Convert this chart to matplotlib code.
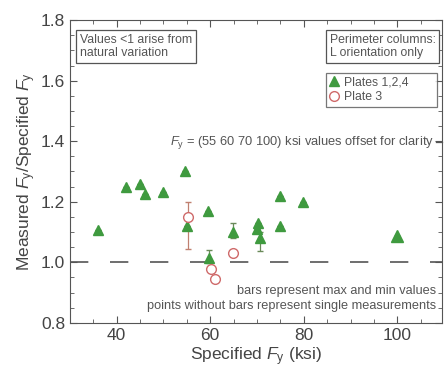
import matplotlib.pyplot as plt
import numpy as np

plt.rcParams['font.family'] = ['Liberation Sans', 'DejaVu Sans']
plt.rcParams['mathtext.fontset'] = 'custom'
plt.rcParams['mathtext.it'] = 'Liberation Sans:italic'
plt.rcParams['mathtext.rm'] = 'Liberation Sans'

# Plates 1,2,4 (green triangles)
p124_x = [36, 42, 45, 46, 50, 54.6, 55, 59.5, 59.7, 64.8, 70.3, 70, 70.7, 75, 75, 79.8, 100]
p124_y = [1.106, 1.248, 1.26, 1.225, 1.232, 1.30, 1.12, 1.17, 1.013, 1.10, 1.13, 1.11, 1.08, 1.22, 1.12, 1.20, 1.086]
p124_lo = [0, 0, 0, 0, 0, 0, 0, 0, 0.015, 0.02, 0, 0, 0.044, 0, 0, 0, 0]
p124_hi = [0, 0, 0, 0, 0, 0, 0, 0, 0.027, 0.03, 0, 0, 0.02, 0, 0, 0, 0]
p124_size = [7, 7, 7, 7, 7, 7, 7, 7, 7, 7, 7, 7, 7, 7, 7, 7, 9]

# Plate 3 (open red circles)
p3_x = [55.2, 60.1, 61, 64.8]
p3_y = [1.15, 0.977, 0.944, 1.03]
p3_lo = [0.107, 0, 0, 0]
p3_hi = [0.048, 0, 0, 0]

green = '#3f9a3f'
red = '#cf6a6a'
grey = '#555555'

fig = plt.figure(figsize=(4.45, 3.72), dpi=100)
ax = fig.add_axes([0.157, 0.132, 0.836, 0.814])

ax.axhline(1.0, color='#555555', lw=1.2, dashes=(11, 13), zorder=1)

ax.errorbar(p124_x, p124_y, yerr=[p124_lo, p124_hi], fmt='none', ecolor='#6a8a5a',
            elinewidth=0.9, capsize=2, zorder=2)
ax.errorbar(p3_x, p3_y, yerr=[p3_lo, p3_hi], fmt='none', ecolor='#c08070',
            elinewidth=0.9, capsize=2, zorder=2)
for x, y, s in zip(p124_x, p124_y, p124_size):
    ax.plot(x, y, '^', color=green, ms=s, mec=green, zorder=3)
ax.plot(p3_x, p3_y, 'o', mfc='white', mec=red, mew=1.0, ms=7, zorder=4)

ax.set_xlim(30, 109.5)
ax.set_ylim(0.8, 1.8)
ax.set_xticks([40, 60, 80, 100])
ax.set_xticks(np.arange(35, 110, 5), minor=True)
ax.set_yticks([0.8, 1.0, 1.2, 1.4, 1.6, 1.8])
ax.set_yticks(np.arange(0.8, 1.8, 0.05), minor=True)
ax.yaxis.set_major_formatter(plt.FormatStrFormatter('%.1f'))
ax.tick_params(which='both', direction='in', top=True, right=True, color=grey,
               labelsize=12.5, labelcolor='#444444')
ax.tick_params(which='major', length=5)
ax.tick_params(which='minor', length=3)
for s in ax.spines.values():
    s.set_color(grey)

ax.set_xlabel('Specified $F_\\mathrm{y}$ (ksi)', fontsize=12.5, color='#444444', labelpad=2)
ax.set_ylabel('Measured $F_\\mathrm{y}$/Specified $F_\\mathrm{y}$', fontsize=12.5,
              color='#444444', labelpad=2)

box = dict(boxstyle='square,pad=0.3', fc='white', ec=grey, lw=0.9)
ax.text(0.027, 0.955, 'Values <1 arise from\nnatural variation', transform=ax.transAxes,
        fontsize=8.8, color=grey, va='top', ha='left', bbox=box, linespacing=1.15)
ax.text(0.698, 0.955, 'Perimeter columns:\nL orientation only', transform=ax.transAxes,
        fontsize=8.8, color=grey, va='top', ha='left', bbox=box, linespacing=1.15)

h1, = ax.plot([], [], '^', color=green, ms=7)
h2, = ax.plot([], [], 'o', mfc='white', mec=red, ms=7)
leg = ax.legend([h1, h2], ['Plates 1,2,4', 'Plate 3'], loc='upper left',
                bbox_to_anchor=(0.688, 0.703, 0.298, 0.122), mode='expand', fontsize=8.8,
                frameon=True, fancybox=False, handlelength=0.8, handletextpad=0.4,
                borderpad=0.3, labelspacing=0.2, borderaxespad=0)
leg.get_frame().set_edgecolor(grey)
leg.get_frame().set_linewidth(0.9)
for t in leg.get_texts():
    t.set_color(grey)

ax.text(0.98, 0.595, '$F_\\mathrm{y}$ = (55 60 70 100) ksi values offset for clarity',
        transform=ax.transAxes, fontsize=9.3, color=grey, ha='right', va='center')
ax.plot([0.985, 1.0], [0.597, 0.597], transform=ax.transAxes, color=grey, lw=0.9, clip_on=False)

ax.text(0.985, 0.105, 'bars represent max and min values', transform=ax.transAxes,
        fontsize=9.2, color=grey, ha='right', va='center')
ax.text(0.985, 0.055, 'points without bars represent single measurements', transform=ax.transAxes,
        fontsize=9.2, color=grey, ha='right', va='center')

fig.savefig('out.png', dpi=100)
